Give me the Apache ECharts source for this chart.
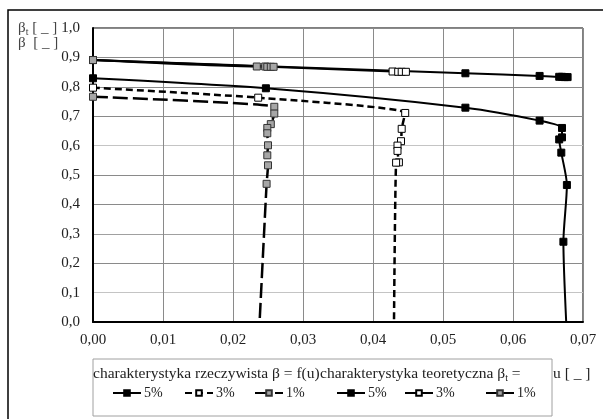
<!DOCTYPE html>
<html><head><meta charset="utf-8">
<script src="https://cdn.jsdelivr.net/npm/echarts@6/dist/echarts.min.js"></script>
<style>html,body{margin:0;padding:0;background:#fff}#c{width:603px;height:419px}</style>
</head><body><div id="c"></div>
<script>
// tick labels
const xTicks = ['0,00','0,01','0,02','0,03','0,04','0,05','0,06','0,07'];
const yTicks = ['0,0','0,1','0,2','0,3','0,4','0,5','0,6','0,7','0,8','0,9','1,0'];
// real characteristic beta = f(u)
const real5 = [[0,0.829],[0.0247,0.795],[0.0532,0.729],[0.0638,0.685],[0.0670,0.660],[0.0670,0.628],[0.0666,0.621],[0.0669,0.576],[0.0677,0.466],[0.0672,0.273],[0.0676,0]];
const real3 = [[0,0.797],[0.0236,0.763],[0.0446,0.711],[0.0441,0.657],[0.0440,0.615],[0.0435,0.600],[0.0435,0.582],[0.0437,0.543],[0.0433,0.542],[0.0430,0]];
const real1 = [[0,0.766],[0.0259,0.732],[0.0259,0.709],[0.0254,0.673],[0.0249,0.660],[0.0249,0.642],[0.0250,0.601],[0.0249,0.567],[0.0250,0.533],[0.0248,0.470],[0.0238,0]];
// theoretical characteristic beta_t
const theo5 = [[0,0.891],[0.0532,0.846],[0.0638,0.837],[0.0666,0.834],[0.0670,0.834],[0.0674,0.833],[0.0678,0.833]];
const theo3 = [[0,0.891],[0.0428,0.852],[0.0436,0.851],[0.0441,0.851],[0.0447,0.851]];
const theo1 = [[0,0.891],[0.0234,0.869],[0.0246,0.869],[0.0249,0.868],[0.0254,0.868],[0.0258,0.868]];
const legendLabels = {r5:'5%', r3:'3%', r1:'1%', t5:'5%', t3:'3%', t1:'1%'};

const FONT = 'Liberation Serif, Times New Roman, serif';
const chart = echarts.init(document.getElementById('c'));
const symSize = (v) => (v[1] === 0 ? 0 : 7);
function mk(name, data, fill, border, lineType, width, smooth) {
  return {
    name, type: 'line', data, smooth, symbol: 'rect', symbolSize: symSize,
    lineStyle: {color: '#000', width, type: lineType},
    itemStyle: {color: fill, borderColor: border, borderWidth: 1},
    emphasis: {disabled: true}, animation: false, clip: false
  };
}
const legendPos = [[112,'r5'],[184,'r3'],[254,'r1'],[336,'t5'],[404,'t3'],[485,'t1']];
const option = {
  animation: false,
  textStyle: {fontFamily: FONT},
  grid: {left: 93, right: 20, top: 28, bottom: 97, show: true, borderColor: '#000', borderWidth: 1, backgroundColor: 'transparent'},
  xAxis: {
    type: 'value', min: 0, max: 0.07, interval: 0.01,
    axisLine: {show: true, lineStyle: {color: '#000', width: 2}},
    axisTick: {show: false},
    axisLabel: {margin: 11, fontSize: 15, color: '#222', fontFamily: FONT,
      formatter: (v) => xTicks[Math.round(v * 100)]},
    splitLine: {show: true, lineStyle: {color: '#8a8a8a', width: 1}}
  },
  yAxis: {
    type: 'value', min: 0, max: 1, interval: 0.1,
    axisLine: {show: true, onZero: false, lineStyle: {color: '#000', width: 2}},
    axisTick: {show: false},
    axisLabel: {margin: 13, fontSize: 15, color: '#222', fontFamily: FONT,
      formatter: (v) => yTicks[Math.round(v * 10)]},
    splitLine: {show: true, lineStyle: {color: ['#8a8a8a','#c4c4c4','#8a8a8a','#a0a0a0','#8a8a8a','#8a8a8a','#c4c4c4','#8a8a8a','#8a8a8a','#8a8a8a','#8a8a8a'], width: 1}}
  },
  legend: legendPos.map(([x, n]) => ({
    data: [n], left: x, top: 386, padding: 0, itemWidth: 28, itemHeight: 7, itemGap: 0,
    formatter: (name) => legendLabels[name],
    textStyle: {fontFamily: FONT, fontSize: 14, color: '#222', padding: [0,0,0,-2]},
    selectedMode: false
  })),
  graphic: [
    {type: 'rect', shape: {x: 8, y: 10, width: 620, height: 440}, style: {fill: 'none', stroke: '#000', lineWidth: 1.5}, silent: true, z: -10},
    {type: 'rect', shape: {x: 93, y: 359, width: 459, height: 57}, style: {fill: '#fff', stroke: '#a0a0a0', lineWidth: 1}, silent: true, z: -5},
    {type: 'text', x: 93, y: 374, style: {text: 'charakterystyka rzeczywista β = f(u)', font: '15.5px ' + FONT, fill: '#222', verticalAlign: 'middle'}, silent: true},
    {type: 'text', x: 320, y: 374, style: {text: 'charakterystyka teoretyczna β{s|t} =', font: '15.5px ' + FONT, fill: '#222', verticalAlign: 'middle',
      rich: {s: {fontSize: 10, fontFamily: FONT, padding: [8,0,0,0], fill: '#222'}}}, silent: true},
    {type: 'text', x: 553, y: 374, style: {text: 'u [ _ ]', font: '15.5px ' + FONT, fill: '#222', verticalAlign: 'middle'}, silent: true},
    {type: 'text', x: 18, y: 28, style: {text: 'β{s|t} [ _ ]', font: '15px ' + FONT, fill: '#444', verticalAlign: 'middle',
      rich: {s: {fontSize: 10, fontFamily: FONT, padding: [8,0,0,0], fill: '#444'}}}, silent: true},
    {type: 'text', x: 18, y: 43, style: {text: 'β  [ _ ]', font: '15px ' + FONT, fill: '#444', verticalAlign: 'middle'}, silent: true}
  ],
  series: [
    mk('r5', real5, '#000', '#000', 'solid', 2, 0.25),
    mk('r3', real3, '#fff', '#000', [7,4], 2.5, 0.2),
    mk('r1', real1, '#a6a6a6', '#333', [15,5], 2.5, 0.2),
    mk('t5', theo5, '#000', '#000', 'solid', 2, 0.2),
    mk('t3', theo3, '#fff', '#000', 'solid', 2, 0.2),
    mk('t1', theo1, '#a6a6a6', '#333', 'solid', 2, 0.2)
  ]
};
chart.setOption(option);
</script></body></html>
